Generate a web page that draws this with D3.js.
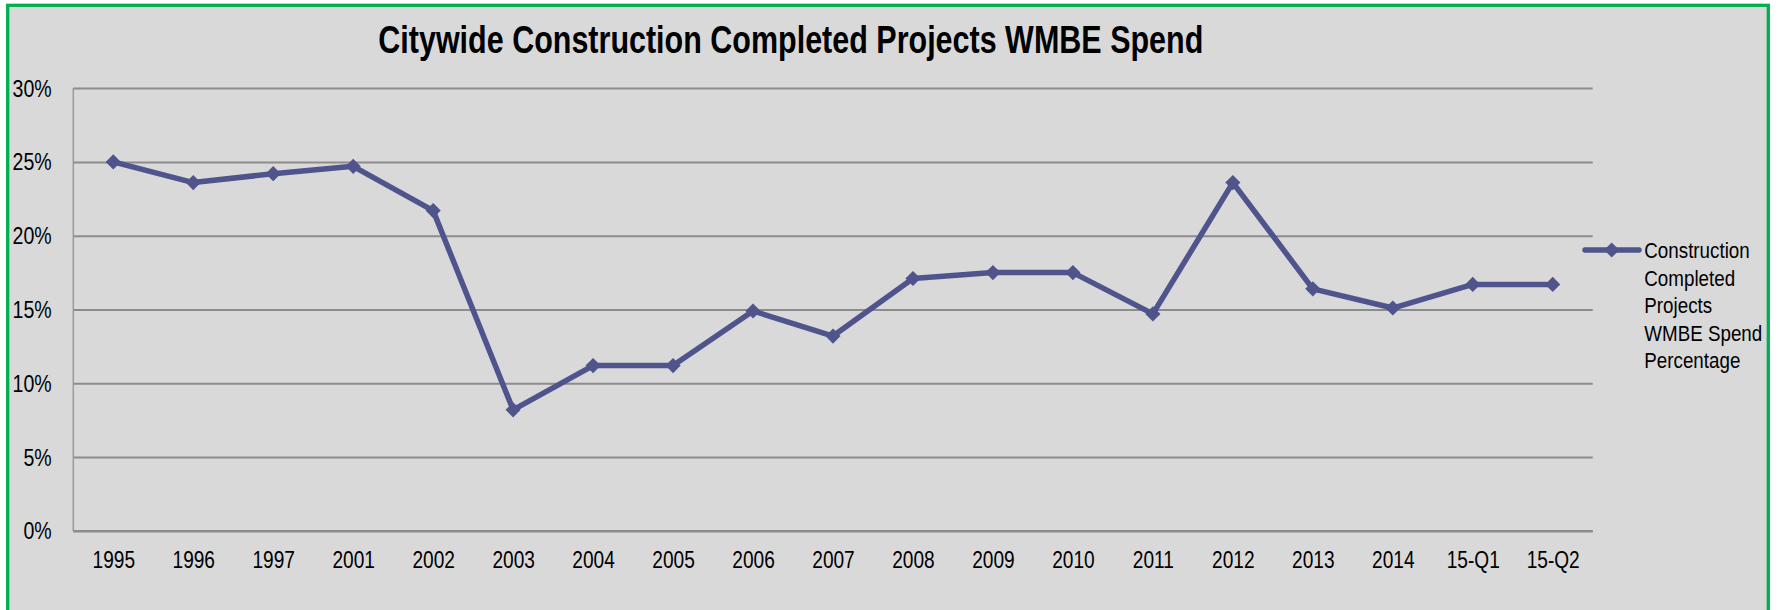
<!DOCTYPE html>
<html>
<head>
<meta charset="utf-8">
<script src="https://cdn.jsdelivr.net/npm/d3@7"></script>
<style>
  html, body { margin: 0; padding: 0; background: #fff; }
  svg { display: block; font-family: "Liberation Sans", Arial, sans-serif; }
</style>
</head>
<body>
<div id="chart"></div>
<script>
// Data
const categories = ['1995', '1996', '1997', '2001', '2002', '2003', '2004', '2005', '2006', '2007',
  '2008', '2009', '2010', '2011', '2012', '2013', '2014', '15-Q1', '15-Q2']
const spendPct = [25.0, 23.6, 24.2, 24.7, 21.7, 8.2, 11.2, 11.2, 14.9, 13.2,
  17.1, 17.5, 17.5, 14.7, 23.6, 16.4, 15.1, 16.7, 16.7]
const yTicks = [0, 5, 10, 15, 20, 25, 30]
const title = 'Citywide Construction Completed Projects WMBE Spend'
const legendLines = ['Construction', 'Completed', 'Projects', 'WMBE Spend', 'Percentage']

const lineColor = '#50548c'

// Dimensions
let dimensions = {
  width: 1783,
  height: 610,
  left: 73.3,
  right: 1592.7,
  top: 88.1,
  bottom: 530.9,
}

// squeeze text horizontally, the original font is a narrow one
function squeeze(sel, k) {
  sel.each(function () {
    const w = this.getComputedTextLength()
    d3.select(this)
      .attr('textLength', w * k)
      .attr('lengthAdjust', 'spacingAndGlyphs')
  })
}

const svg = d3.select('#chart')
  .append('svg')
  .attr('width', dimensions.width)
  .attr('height', dimensions.height)

// frame
svg.append('rect')
  .attr('x', 7.7)
  .attr('y', 5.3)
  .attr('width', 1760.6)
  .attr('height', 700)
  .attr('fill', '#d9d9d9')
  .attr('stroke', '#00b050')
  .attr('stroke-width', 3.3)

// title
svg.append('text')
  .attr('x', 378.3)
  .attr('y', 53.3)
  .attr('font-size', 39.5)
  .attr('font-weight', 'bold')
  .attr('fill', '#000')
  .attr('textLength', 825)
  .attr('lengthAdjust', 'spacingAndGlyphs')
  .text(title)

// Scales
const xScale = d3.scalePoint()
  .domain(categories)
  .range([dimensions.left, dimensions.right])
  .padding(0.5)

const yScale = d3.scaleLinear()
  .domain([0, 30])
  .range([dimensions.bottom, dimensions.top])

// grid + y labels
const yAxis = d3.axisLeft(yScale)
  .tickValues(yTicks)
  .tickSize(-(dimensions.right - dimensions.left))
  .tickFormat(d => d + '%')

const yG = svg.append('g')
  .attr('transform', `translate(${dimensions.left}, 0)`)
  .call(yAxis)

yG.select('.domain').remove()
yG.selectAll('.tick line')
  .attr('stroke', '#8c8c8c')
  .attr('stroke-width', 2)
yG.selectAll('.tick text')
  .attr('x', -21.6)
  .attr('dy', 8)
  .attr('font-size', 23)
  .attr('font-family', null)
  .attr('fill', '#000')
  .call(squeeze, 0.85)

// left axis line
svg.append('line')
  .attr('x1', dimensions.left)
  .attr('x2', dimensions.left)
  .attr('y1', dimensions.top)
  .attr('y2', dimensions.bottom)
  .attr('stroke', '#9a9a9a')
  .attr('stroke-width', 1.5)

// x axis
const xAxis = d3.axisBottom(xScale).tickSize(0)
const xG = svg.append('g')
  .attr('transform', `translate(0, ${dimensions.bottom})`)
  .call(xAxis)

xG.select('.domain')
  .attr('stroke', '#8c8c8c')
  .attr('stroke-width', 2)
  .attr('d', `M${dimensions.left},0H${dimensions.right}`)
xG.selectAll('.tick text')
  .attr('y', 37.4)
  .attr('dy', null)
  .attr('font-size', 23)
  .attr('font-family', null)
  .attr('fill', '#000')
  .call(squeeze, 0.83)

// line
const lineGenerator = d3.line()
  .x((d, i) => xScale(categories[i]))
  .y(d => yScale(d))

svg.append('path')
  .datum(spendPct)
  .attr('d', lineGenerator)
  .attr('fill', 'none')
  .attr('stroke', lineColor)
  .attr('stroke-width', 5.5)
  .attr('stroke-linejoin', 'round')

const diamond = d3.symbol(d3.symbolSquare, 115)

svg.append('g')
  .selectAll('path')
  .data(spendPct)
  .join('path')
  .attr('d', diamond)
  .attr('transform', (d, i) => `translate(${xScale(categories[i])}, ${yScale(d)}) rotate(45)`)
  .attr('fill', lineColor)

// legend
const legend = svg.append('g')

legend.append('line')
  .attr('x1', 1585)
  .attr('x2', 1639)
  .attr('y1', 250)
  .attr('y2', 250)
  .attr('stroke', lineColor)
  .attr('stroke-width', 5.5)
  .attr('stroke-linecap', 'round')

legend.append('path')
  .attr('d', diamond)
  .attr('transform', 'translate(1611.7, 250) rotate(45)')
  .attr('fill', lineColor)

// narrow text via a scale on the group, so its box stays inside the frame
legend.append('g')
  .attr('transform', 'translate(1644.3, 0) scale(0.835, 1)')
  .selectAll('text')
  .data(legendLines)
  .join('text')
  .attr('x', 0)
  .attr('y', (d, i) => 258 + i * 27.6)
  .attr('font-size', 22.5)
  .attr('fill', '#000')
  .text(d => d)
</script>
</body>
</html>
